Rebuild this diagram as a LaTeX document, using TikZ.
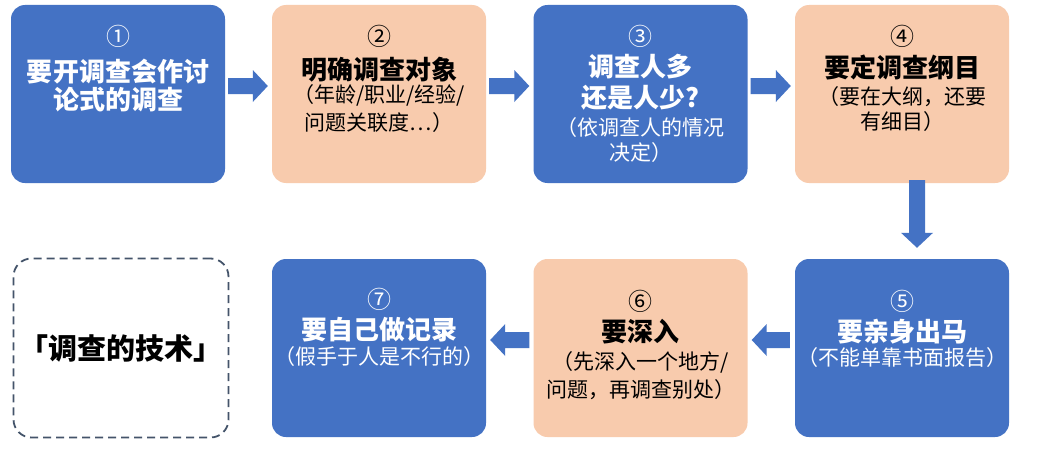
\documentclass[tikz,border=0pt]{standalone}
\usepackage{fontspec}
\setmainfont{Noto Sans CJK SC}
\usetikzlibrary{calc}
\definecolor{bblue}{HTML}{4472C4}
\definecolor{peach}{HTML}{F8CBAD}
\definecolor{dashc}{HTML}{44546A}
\newcommand\blockarrow[2]{%
  \coordinate (hb) at ($(#2)!15pt!(#1)$);
  \fill[bblue] ($(#1)!8pt!90:(#2)$) -- ($(hb)!8pt!90:(#2)$) -- ($(hb)!16pt!90:(#2)$) -- (#2)
    -- ($(hb)!16pt!-90:(#2)$) -- ($(hb)!8pt!-90:(#2)$) -- ($(#1)!8pt!-90:(#2)$) -- cycle;}
\begin{document}
\begin{tikzpicture}[x=1pt,y=-1pt,
  box/.style={rounded corners=14pt, minimum width=214pt, minimum height=178pt, inner sep=0pt, draw=none},
  bluebox/.style={box, fill=bblue},
  peachbox/.style={box, fill=peach},
  num/.style={font=\fontsize{24}{26}\selectfont, inner sep=0pt},
  head/.style={font=\fontsize{26}{30}\selectfont\bfseries, inner sep=0pt},
  sub/.style={font=\fontsize{21}{24}\selectfont, inner sep=0pt},
  wt/.style={text=white},
  bt/.style={text=black}]
\useasboundingbox[fill=white] (0,0) rectangle (1040,460);

% boxes
\node[bluebox]  (b1) at (118,94) {};
\node[peachbox] (b2) at (379,94) {};
\node[bluebox]  (b3) at (640.5,94) {};
\node[peachbox] (b4) at (902,94) {};
\node[bluebox]  (b5) at (902,348) {};
\node[peachbox] (b6) at (640.5,348) {};
\node[bluebox]  (b7) at (379,348) {};
\node[draw=dashc, line width=1.8pt, dash pattern=on 8pt off 5pt, rounded corners=18pt,
      minimum width=215pt, minimum height=179pt, inner sep=0pt] (d) at (121,348) {};

% box 1
\node[num,wt]  (n1)  at ($(b1.north)+(0,32)$) {①};
\node[head,wt] (h1a) at ($(b1.north)+(0,67)$) {要开调查会作讨};
\node[head,wt] (h1b) at ($(b1.north)+(0,95)$) {论式的调查};
% box 2
\node[num,bt]  (n2)  at ($(b2.north)+(0,32)$) {②};
\node[head,bt] (h2a) at ($(b2.north)+(0,65)$) {明确调查对象};
\node[sub,bt]  (s2a) at ($(b2.north)+(0,91)$) {（年龄/职业/经验/};
\node[sub,bt]  (s2b) at ($(b2.north)+(0,118)$) {问题关联度…）};
% box 3
\node[num,wt]  (n3)  at ($(b3.north)+(0,32)$) {③};
\node[head,wt] (h3a) at ($(b3.north)+(0,62)$) {调查人多};
\node[head,wt] (h3b) at ($(b3.north)+(0,93)$) {还是人少?};
\node[sub,wt]  (s3a) at ($(b3.north)+(0,123)$) {（依调查人的情况};
\node[sub,wt]  (s3b) at ($(b3.north)+(0,148)$) {决定）};
% box 4
\node[num,bt]  (n4)  at ($(b4.north)+(0,32)$) {④};
\node[head,bt] (h4a) at ($(b4.north)+(0,63)$) {要定调查纲目};
\node[sub,bt]  (s4a) at ($(b4.north)+(0,92)$) {（要在大纲，还要};
\node[sub,bt]  (s4b) at ($(b4.north)+(0,117)$) {有细目）};
% box 5
\node[num,wt]  (n5)  at ($(b5.north)+(0,43)$) {⑤};
\node[head,wt] (h5a) at ($(b5.north)+(0,73)$) {要亲身出马};
\node[sub,wt]  (s5a) at ($(b5.north)+(0,99)$) {（不能单靠书面报告）};
% box 6
\node[num,bt]  (n6)  at ($(b6.north)+(0,43)$) {⑥};
\node[head,bt] (h6a) at ($(b6.north)+(0,73)$) {要深入};
\node[sub,bt]  (s6a) at ($(b6.north)+(0,104)$) {（先深入一个地方/};
\node[sub,bt]  (s6b) at ($(b6.north)+(0,131)$) {问题，再调查别处）};
% box 7
\node[num,wt]  (n7)  at ($(b7.north)+(0,41)$) {⑦};
\node[head,wt] (h7a) at ($(b7.north)+(0,71)$) {要自己做记录};
\node[sub,wt]  (s7a) at ($(b7.north)+(0,98)$) {（假手于人是不行的）};
% dashed label
\node[font=\fontsize{29}{32}\selectfont\bfseries, inner sep=0pt] (dt) at (d.center) {「调查的技术」};

% arrow end points
\coordinate (a1t) at ($(b1.east)+(3,-8)$);  \coordinate (a1p) at ($(b2.west)+(-4,-8)$);
\coordinate (a2t) at ($(b2.east)+(3,-8)$);  \coordinate (a2p) at ($(b3.west)+(-4,-8)$);
\coordinate (a3t) at ($(b3.east)+(3,-8)$);  \coordinate (a3p) at ($(b4.west)+(-4,-8)$);
\coordinate (a4t) at ($(b4.south)+(15,-3)$); \coordinate (a4p) at ($(b5.north)+(15,-11)$);
\coordinate (a5t) at ($(b5.west)+(-5,-8)$); \coordinate (a5p) at ($(b6.east)+(4,-8)$);
\coordinate (a6t) at ($(b6.west)+(-4,-8)$); \coordinate (a6p) at ($(b7.east)+(4,-8)$);
\blockarrow{a1t}{a1p}
\blockarrow{a2t}{a2p}
\blockarrow{a3t}{a3p}
\blockarrow{a4t}{a4p}
\blockarrow{a5t}{a5p}
\blockarrow{a6t}{a6p}
\end{tikzpicture}
\end{document}
